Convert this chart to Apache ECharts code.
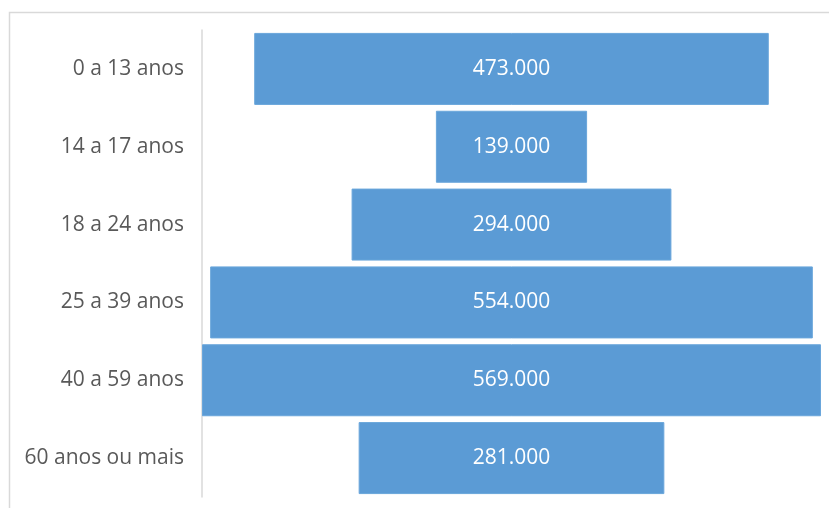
<!DOCTYPE html>
<html>
<head>
    <meta charset="utf-8">
    <title>Faixa etaria</title>
    <script src="https://cdn.jsdelivr.net/npm/echarts@6/dist/echarts.min.js"></script>
    <style type="text/css">
        html, body { margin: 0; padding: 0; background: #fff; }
        #main { width: 829px; height: 508px; }
    </style>
</head>
<body>
<div id="main"></div>
<script type="text/javascript">
    // faixas etarias e valores
    var categories = ['0 a 13 anos', '14 a 17 anos', '18 a 24 anos', '25 a 39 anos', '40 a 59 anos', '60 anos ou mais'];
    var values = [473000, 139000, 294000, 554000, 569000, 281000];

    var maxVal = Math.max.apply(null, values);
    // espaco invisivel para centralizar as barras (funil)
    var offsets = values.map(function (v) { return (maxVal - v) / 2; });

    function fmt(n) {
        return String(n).replace(/\B(?=(\d{3})+(?!\d))/g, '.');
    }

    var chart = echarts.init(document.getElementById('main'));
    chart.setOption({
        animation: false,
        textStyle: {fontFamily: 'Open Sans'},
        graphic: [{
            type: 'rect',
            shape: {x: 9.5, y: 12.5, width: 840, height: 520},
            style: {fill: 'none', stroke: '#d9d9d9', lineWidth: 1.5},
            silent: true
        }],
        grid: {left: 202, right: 8, top: 30, bottom: 11},
        xAxis: {
            type: 'value',
            min: 0,
            max: maxVal,
            show: false
        },
        yAxis: {
            type: 'category',
            data: categories,
            inverse: true,
            axisLine: {show: true, lineStyle: {color: '#d9d9d9', width: 1.5}},
            axisTick: {show: false},
            axisLabel: {color: '#595959', fontSize: 21, margin: 18}
        },
        series: [{
            name: 'offset',
            type: 'bar',
            stack: 'total',
            data: offsets,
            itemStyle: {color: 'transparent'},
            silent: true,
            barWidth: 72
        }, {
            name: 'valor',
            type: 'bar',
            stack: 'total',
            data: values,
            barWidth: 72,
            itemStyle: {color: '#5b9bd5', borderColor: '#6aa6db', borderWidth: 1},
            label: {
                show: true,
                position: 'inside',
                color: '#ffffff',
                fontSize: 21,
                formatter: function (p) { return fmt(p.value); }
            }
        }]
    });
</script>
</body>
</html>
